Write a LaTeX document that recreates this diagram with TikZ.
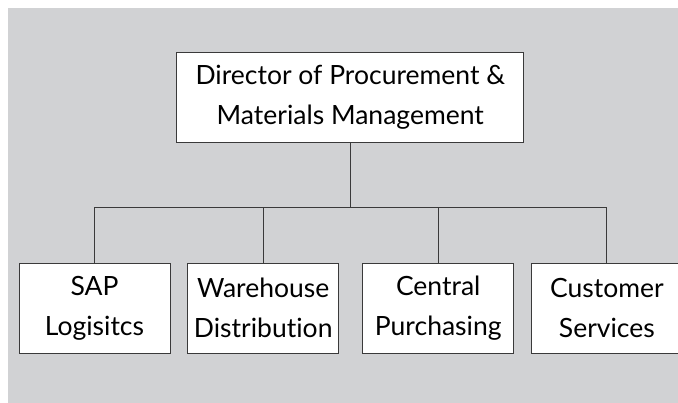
\documentclass[tikz,border=0pt]{standalone}
\usepackage{fontspec}
\setmainfont[Ligatures={NoCommon}]{Lato}
\usetikzlibrary{positioning}
\definecolor{bggray}{RGB}{209,210,212}
\definecolor{linegray}{RGB}{58,58,58}

\begin{document}
\begin{tikzpicture}[x=1pt, y=-1pt, node distance=16.7pt,
    unit/.style={draw=linegray, line width=1pt, fill=white, minimum width=151pt,
        minimum height=90pt, align=center, inner sep=0pt,
        font=\fontsize{26.5}{40}\selectfont},
    link/.style={draw=linegray, line width=0.9pt}]
    \useasboundingbox (0,0) rectangle (678,402);
    \fill[bggray] (8,8) rectangle (682,406);
        \node[unit, minimum width=347pt] (director) at (350.3,97.7) {Director of Procurement \&\\Materials Management};
        \node[unit] (sap) at (94.5,308.3) {SAP\\Logisitcs};
        \node[unit] (warehouse) [right=of sap] {Warehouse\\Distribution};
        \node[unit] (central) [right=23pt of warehouse] {Central\\Purchasing};
        \node[unit] (customer) [right=of central] {Customer\\Services};
        \coordinate (bus) at (349,207.3);
        \path[link] (director.south) -- (director.south |- bus);
        \path[link] (sap.north |- bus) -- (customer.north |- bus);
        \path[link] (sap.north) -- (sap.north |- bus);
        \path[link] (warehouse.north) -- (warehouse.north |- bus);
        \path[link] (central.north) -- (central.north |- bus);
        \path[link] (customer.north) -- (customer.north |- bus);
    \end{tikzpicture}
\end{document}
